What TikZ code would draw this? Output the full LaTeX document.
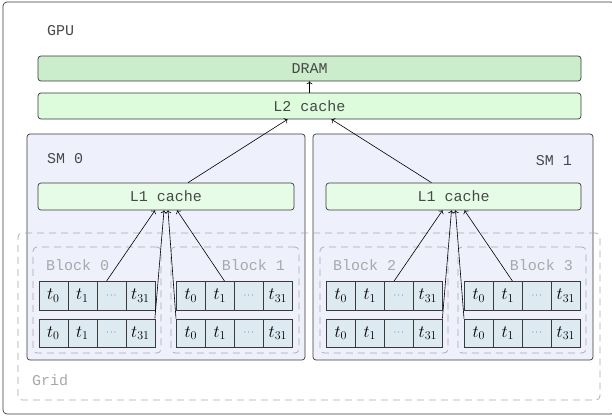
\documentclass[tikz,border=0pt]{standalone}
\usepackage{fontspec}
\setmonofont{Liberation Mono}
\usepackage{tikz}
\usetikzlibrary{arrows.meta,positioning,calc}
\definecolor{dramfill}{HTML}{CBEDCB}
\definecolor{ltwofill}{HTML}{DCFCDC}
\definecolor{lonefill}{HTML}{E6FCE6}
\definecolor{smfill}{HTML}{EEF0FC}
\definecolor{cellfill}{HTML}{DEEAF2}
\definecolor{boxline}{HTML}{3A3A3A}
\definecolor{txtdark}{HTML}{484848}
\definecolor{txtlight}{HTML}{A8A8A8}

\begin{document}
\begin{tikzpicture}[
  x=1pt, y=1pt,
  >=To,
  mem/.style={draw=boxline, line width=0.7pt, rounded corners=3pt, minimum height=25pt,
              font=\ttfamily\fontsize{15}{18}\selectfont, text=txtdark, inner sep=0pt},
  smbox/.style={draw=boxline, line width=0.7pt, rounded corners=3pt, fill=smfill,
                minimum width=278pt, minimum height=226pt},
  group/.style={draw=txtlight, line width=0.7pt, rounded corners=4pt,
                dash pattern=on 7pt off 5pt},
  cell/.style={draw=boxline, line width=0.7pt, fill=cellfill, minimum width=29pt,
               minimum height=28.5pt, inner sep=0pt, anchor=north west,
               font=\fontsize{17}{17}\selectfont},
  rowbox/.style={minimum width=116pt, minimum height=28.5pt, inner sep=0pt, anchor=north west},
  lbl/.style={font=\ttfamily\fontsize{15}{18}\selectfont, text=txtdark, inner sep=0pt},
  glbl/.style={lbl, text=txtlight},
  link/.style={->, line width=0.6pt},
]
\useasboundingbox (0,0) rectangle (612,-416);

% GPU frame
\node[draw=boxline, line width=0.7pt, rounded corners=4pt, minimum width=612pt,
      minimum height=412pt, inner sep=0pt] (gpu) at (309,-208) {};
\node[lbl, anchor=west] (gpulbl) at (47,-31) {GPU};

% Memory levels
\node[mem, fill=dramfill, minimum width=543pt] (dram) at (309.5,-68.5) {DRAM};
\node[mem, fill=ltwofill, minimum width=543pt, minimum height=26pt] (ltwo) at (309.5,-106) {L2 cache};

% Streaming multiprocessors
\node[smbox] (smzero) at (166,-247) {};
\node[smbox, minimum width=280pt] (smone) at (453,-247) {};
\node[lbl, anchor=west] (smzerolbl) at (47,-159) {SM 0};
\node[lbl, anchor=east] (smonelbl) at (572,-161) {SM 1};

\node[mem, fill=lonefill, minimum width=256pt, minimum height=27pt] (lonea) at (166,-196.5) {L1 cache};
\node[mem, fill=lonefill, minimum width=255pt, minimum height=27pt] (loneb) at (453.5,-196.5) {L1 cache};

% Grid and blocks
\node[group, minimum width=582pt, minimum height=167pt] (grid) at (309,-316.5) {};
\node[glbl, anchor=west] (gridlbl) at (32,-380) {Grid};

\foreach \b/\cx in {0/97,1/235,2/384,3/522}
  \node[group, minimum width=128pt, minimum height=106pt] (blk\b) at (\cx,-300) {};
\node[glbl, anchor=west] (blk0lbl) at (46,-265) {Block 0};
\node[glbl, anchor=east] (blk1lbl) at (285,-265) {Block 1};
\node[glbl, anchor=west] (blk2lbl) at (333,-265) {Block 2};
\node[glbl, anchor=east] (blk3lbl) at (573,-265) {Block 3};

% Thread rows
\foreach \b/\bx in {0/38.5,1/176,2/326,3/464} {
  \foreach \r/\ry in {1/281,2/318.5} {
    \node[rowbox] (b\b-r\r) at (\bx,-\ry) {};
    \foreach \c/\t in {0/$t_0$,1/$t_1$,2/{\fontsize{8}{8}\selectfont$\cdots$},3/$t_{31}$}
      \node[cell] (b\b-r\r-c\c) at (\bx+29*\c,-\ry) {\t};
  }
}

% Arrows: L2 -> DRAM, L1 -> L2
\draw[link] (ltwo.north) -- (dram.south);
\draw[link] ([xshift=22pt]lonea.north) -- ([xshift=-22pt]ltwo.south);
\draw[link] ([xshift=-22pt]loneb.north) -- ([xshift=22pt]ltwo.south);

% Arrows: thread rows -> L1
\draw[link] (b0-r1) -- ([xshift=-11pt]lonea.south);
\draw[link] (b0-r2.north east) -- ([xshift=-2pt]lonea.south);
\draw[link] (b1-r2.north west) -- ([xshift=2pt]lonea.south);
\draw[link] (b1-r1) -- ([xshift=11pt]lonea.south);
\draw[link] (b2-r1) -- ([xshift=-11pt]loneb.south);
\draw[link] (b2-r2.north east) -- ([xshift=-2pt]loneb.south);
\draw[link] (b3-r2.north west) -- ([xshift=2pt]loneb.south);
\draw[link] (b3-r1) -- ([xshift=11pt]loneb.south);
\end{tikzpicture}
\end{document}
